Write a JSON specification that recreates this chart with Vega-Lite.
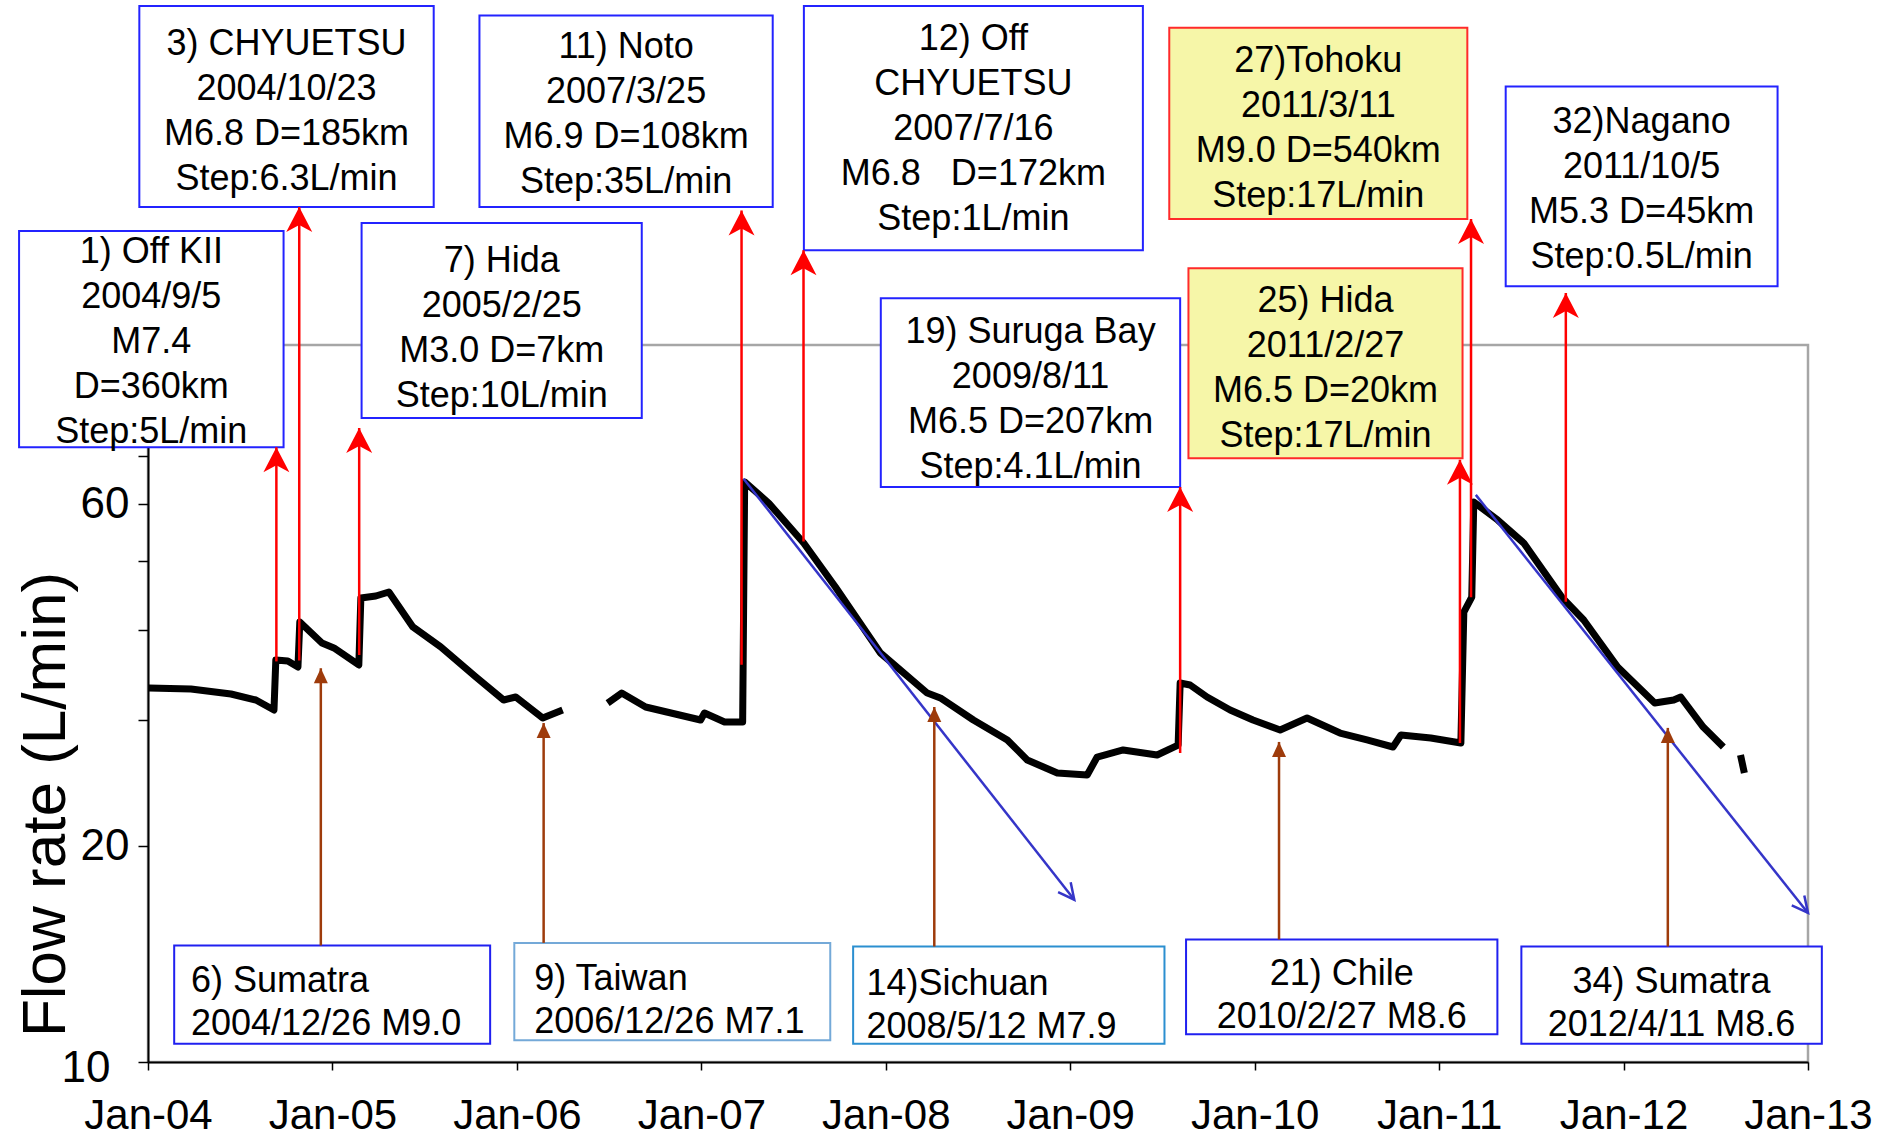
{
  "$schema": "https://vega.github.io/schema/vega-lite/v6.json",
  "width": 1660,
  "height": 717,
  "autosize": {"type": "none"},
  "padding": {"left": 148, "top": 345, "right": 78, "bottom": 77},
  "background": "white",
  "config": {"view": {"stroke": "#a6a6a6", "strokeWidth": 2.5}, "font": "Liberation Sans"},
  "datasets": {
    "flow": [
      {"seg": 1, "t": 2004.005, "v": 33.24}, {"seg": 1, "t": 2004.233, "v": 33.13}, {"seg": 1, "t": 2004.45, "v": 32.6},
      {"seg": 1, "t": 2004.585, "v": 31.98}, {"seg": 1, "t": 2004.683, "v": 30.97}, {"seg": 1, "t": 2004.693, "v": 36.37},
      {"seg": 1, "t": 2004.758, "v": 36.25}, {"seg": 1, "t": 2004.813, "v": 35.56}, {"seg": 1, "t": 2004.823, "v": 41.09},
      {"seg": 1, "t": 2004.943, "v": 38.41}, {"seg": 1, "t": 2005.008, "v": 37.8}, {"seg": 1, "t": 2005.143, "v": 35.79},
      {"seg": 1, "t": 2005.154, "v": 44.37}, {"seg": 1, "t": 2005.235, "v": 44.66}, {"seg": 1, "t": 2005.306, "v": 45.24},
      {"seg": 1, "t": 2005.436, "v": 40.44}, {"seg": 1, "t": 2005.587, "v": 37.92}, {"seg": 1, "t": 2005.777, "v": 34.44},
      {"seg": 1, "t": 2005.928, "v": 31.98}, {"seg": 1, "t": 2005.994, "v": 32.29}, {"seg": 1, "t": 2006.14, "v": 30.18},
      {"seg": 1, "t": 2006.248, "v": 30.97},
      {"seg": 2, "t": 2006.492, "v": 31.67}, {"seg": 2, "t": 2006.568, "v": 32.7}, {"seg": 2, "t": 2006.698, "v": 31.27},
      {"seg": 2, "t": 2006.996, "v": 29.99}, {"seg": 2, "t": 2007.017, "v": 30.67}, {"seg": 2, "t": 2007.126, "v": 29.8},
      {"seg": 2, "t": 2007.224, "v": 29.8}, {"seg": 2, "t": 2007.235, "v": 64.41}, {"seg": 2, "t": 2007.365, "v": 60.2},
      {"seg": 2, "t": 2007.555, "v": 52.94}, {"seg": 2, "t": 2007.727, "v": 45.97}, {"seg": 2, "t": 2007.971, "v": 37.19},
      {"seg": 2, "t": 2008.225, "v": 32.7}, {"seg": 2, "t": 2008.296, "v": 32.19}, {"seg": 2, "t": 2008.475, "v": 29.99},
      {"seg": 2, "t": 2008.659, "v": 28.13}, {"seg": 2, "t": 2008.767, "v": 26.38}, {"seg": 2, "t": 2008.93, "v": 25.3},
      {"seg": 2, "t": 2009.092, "v": 25.14}, {"seg": 2, "t": 2009.146, "v": 26.63}, {"seg": 2, "t": 2009.287, "v": 27.24},
      {"seg": 2, "t": 2009.471, "v": 26.8}, {"seg": 2, "t": 2009.585, "v": 27.67}, {"seg": 2, "t": 2009.596, "v": 33.77},
      {"seg": 2, "t": 2009.65, "v": 33.56}, {"seg": 2, "t": 2009.742, "v": 32.29}, {"seg": 2, "t": 2009.867, "v": 30.97},
      {"seg": 2, "t": 2009.991, "v": 29.99}, {"seg": 2, "t": 2010.138, "v": 29.04}, {"seg": 2, "t": 2010.284, "v": 30.18},
      {"seg": 2, "t": 2010.463, "v": 28.76}, {"seg": 2, "t": 2010.609, "v": 28.13}, {"seg": 2, "t": 2010.75, "v": 27.5},
      {"seg": 2, "t": 2010.793, "v": 28.58}, {"seg": 2, "t": 2010.955, "v": 28.31}, {"seg": 2, "t": 2011.118, "v": 27.86},
      {"seg": 2, "t": 2011.134, "v": 42.42}, {"seg": 2, "t": 2011.177, "v": 44.51}, {"seg": 2, "t": 2011.188, "v": 60.39},
      {"seg": 2, "t": 2011.318, "v": 57.0}, {"seg": 2, "t": 2011.459, "v": 52.94}, {"seg": 2, "t": 2011.665, "v": 44.51},
      {"seg": 2, "t": 2011.784, "v": 41.35}, {"seg": 2, "t": 2011.968, "v": 35.56}, {"seg": 2, "t": 2012.169, "v": 31.67},
      {"seg": 2, "t": 2012.272, "v": 31.98}, {"seg": 2, "t": 2012.31, "v": 32.29}, {"seg": 2, "t": 2012.432, "v": 29.32},
      {"seg": 2, "t": 2012.541, "v": 27.5},
      {"seg": 3, "t": 2012.634, "v": 26.8}, {"seg": 3, "t": 2012.655, "v": 25.3}
    ],
    "trend": [
      {"line": "a", "t": 2007.229, "v": 65.1}, {"line": "a", "t": 2009.022, "v": 16.84},
      {"line": "b", "t": 2011.199, "v": 61.8}, {"line": "b", "t": 2013.0, "v": 16.14}
    ],
    "trendEnds": [
      {"line": "a", "t": 2009.022, "v": 16.84}, {"line": "b", "t": 2013.0, "v": 16.14}
    ],
    "red": [
      {"id": "1", "t": 2004.696, "v": 72.0, "v2": 36.2},
      {"id": "3", "t": 2004.82, "v": 155.8, "v2": 36.3},
      {"id": "7", "t": 2005.145, "v": 76.6, "v2": 36.95},
      {"id": "11", "t": 2007.218, "v": 154.0, "v2": 35.8},
      {"id": "12", "t": 2007.554, "v": 135.6, "v2": 53.2},
      {"id": "19", "t": 2009.596, "v": 63.4, "v2": 26.98},
      {"id": "25", "t": 2011.113, "v": 69.2, "v2": 27.86},
      {"id": "27", "t": 2011.173, "v": 149.9, "v2": 44.5},
      {"id": "32", "t": 2011.687, "v": 118.2, "v2": 43.85}
    ],
    "brown": [
      {"id": "6", "t": 2004.937, "v": 35.4, "v2": 14.54},
      {"id": "9", "t": 2006.145, "v": 29.7, "v2": 14.66},
      {"id": "14", "t": 2008.263, "v": 31.27, "v2": 14.49},
      {"id": "21", "t": 2010.132, "v": 27.95, "v2": 14.82},
      {"id": "34", "t": 2012.24, "v": 29.24, "v2": 14.49}
    ],
    "boxes": [
      {"id": "1", "t": 2003.301, "t2": 2004.735, "v": 144.2, "v2": 72.0},
      {"id": "3", "t": 2003.953, "t2": 2005.549, "v": 297.0, "v2": 155.8},
      {"id": "7", "t": 2005.158, "t2": 2006.677, "v": 148.0, "v2": 79.1},
      {"id": "11", "t": 2005.797, "t2": 2007.387, "v": 288.0, "v2": 155.8},
      {"id": "12", "t": 2007.556, "t2": 2009.394, "v": 297.0, "v2": 135.6},
      {"id": "19", "t": 2007.973, "t2": 2009.596, "v": 116.2, "v2": 63.37},
      {"id": "27", "t": 2009.537, "t2": 2011.153, "v": 277.1, "v2": 149.9},
      {"id": "25", "t": 2009.641, "t2": 2011.127, "v": 128.0, "v2": 69.5},
      {"id": "32", "t": 2011.361, "t2": 2012.835, "v": 229.3, "v2": 120.8},
      {"id": "6", "t": 2004.142, "t2": 2005.855, "v": 14.54, "v2": 10.6},
      {"id": "9", "t": 2005.986, "t2": 2007.699, "v": 14.66, "v2": 10.72},
      {"id": "14", "t": 2007.823, "t2": 2009.511, "v": 14.49, "v2": 10.6},
      {"id": "21", "t": 2009.628, "t2": 2011.316, "v": 14.82, "v2": 10.93},
      {"id": "34", "t": 2011.446, "t2": 2013.075, "v": 14.49, "v2": 10.6}
    ],
    "labels": [
      {"id": "1", "t": 2004.018, "v": 142.4, "txt": "1) Off KII\n2004/9/5\nM7.4\nD=360km\nStep:5L/min"},
      {"id": "3", "t": 2004.751, "v": 277.6, "txt": "3) CHYUETSU\n2004/10/23\nM6.8 D=185km\nStep:6.3L/min"},
      {"id": "7", "t": 2005.918, "v": 138.3, "txt": "7) Hida\n2005/2/25\nM3.0 D=7km\nStep:10L/min"},
      {"id": "11", "t": 2006.592, "v": 274.9, "txt": "11) Noto\n2007/3/25\nM6.9 D=108km\nStep:35L/min"},
      {"id": "12", "t": 2008.475, "v": 282.1, "txt": "12) Off\nCHYUETSU\n2007/7/16\nM6.8\u00a0\u00a0 D=172km\nStep:1L/min"},
      {"id": "19", "t": 2008.785, "v": 110.1, "txt": "19) Suruga Bay\n2009/8/11\nM6.5 D=207km\nStep:4.1L/min"},
      {"id": "27", "t": 2010.345, "v": 262.9, "txt": "27)Tohoku\n2011/3/11\nM9.0 D=540km\nStep:17L/min"},
      {"id": "25", "t": 2010.384, "v": 121.6, "txt": "25) Hida\n2011/2/27\nM6.5 D=20km\nStep:17L/min"},
      {"id": "32", "t": 2012.098, "v": 216.1, "txt": "32)Nagano\n2011/10/5\nM5.3 D=45km\nStep:0.5L/min"},
      {"id": "6", "t": 2004.233, "v": 13.7, "txt": "6) Sumatra\n2004/12/26 M9.0"},
      {"id": "9", "t": 2006.094, "v": 13.79, "txt": "9) Taiwan\n2006/12/26 M7.1"},
      {"id": "14", "t": 2007.895, "v": 13.57, "txt": "14)Sichuan\n2008/5/12 M7.9"},
      {"id": "21", "t": 2010.472, "v": 14.01, "txt": "21) Chile\n2010/2/27 M8.6"},
      {"id": "34", "t": 2012.26, "v": 13.66, "txt": "34) Sumatra\n2012/4/11 M8.6"}
    ]
  },
  "encoding": {
    "x": {
      "field": "t", "type": "quantitative",
      "scale": {"domain": [2004, 2013], "nice": false, "zero": false},
      "axis": {
        "title": null, "grid": false,
        "values": [2004, 2005, 2006, 2007, 2008, 2009, 2010, 2011, 2012, 2013],
        "labelExpr": "'Jan-' + substring(toString(datum.value), 2, 4)",
        "labelFlush": false, "labelOverlap": false,
        "labelFont": "Liberation Sans", "labelFontSize": 42, "labelColor": "black", "labelPadding": 25,
        "domainColor": "black", "domainWidth": 2, "tickColor": "black", "tickWidth": 1.5, "tickSize": 8
      }
    },
    "y": {
      "field": "v", "type": "quantitative",
      "scale": {"type": "log", "domain": [10, 100], "nice": false},
      "axis": {
        "title": "Flow rate (L/min)", "grid": false,
        "values": [10, 20, 30, 40, 50, 60, 70, 80, 90, 100],
        "labelExpr": "(datum.value == 10 || datum.value == 20 || datum.value == 60) ? toString(datum.value) : ''",
        "labelOverlap": false, "labelFlush": false,
        "labelFont": "Liberation Sans", "labelFontSize": 44, "labelColor": "black",
        "labelPadding": {"condition": {"test": "datum.value == 10", "value": 28}, "value": 9},
        "labelOffset": {"condition": {"test": "datum.value == 10", "value": 6}, "value": 0},
        "domainColor": "black", "domainWidth": 2, "tickColor": "black", "tickWidth": 1.5, "tickSize": 10,
        "titleFont": "Liberation Sans", "titleFontSize": 62, "titleFontWeight": "normal", "titleColor": "black",
        "titleAngle": -90, "titleAlign": "center", "titleBaseline": "middle", "titleX": -103, "titleY": 459
      }
    }
  },
  "layer": [
    {
      "data": {"name": "flow"},
      "mark": {"type": "line", "color": "black", "strokeWidth": 7, "strokeJoin": "round"},
      "encoding": {"detail": {"field": "seg", "type": "nominal"}}
    },
    {
      "data": {"name": "trend"},
      "mark": {"type": "line", "color": "#3535c8", "strokeWidth": 2.5},
      "encoding": {"detail": {"field": "line", "type": "nominal"}}
    },
    {
      "data": {"name": "trendEnds"},
      "transform": [{"filter": "datum.line == 'a'"}],
      "mark": {"type": "point", "shape": "M-0.5,1L0,0L0.5,1", "filled": false, "color": "#3535c8", "strokeWidth": 2.5, "size": 1024, "angle": 141.8, "opacity": 1}
    },
    {
      "data": {"name": "trendEnds"},
      "transform": [{"filter": "datum.line == 'b'"}],
      "mark": {"type": "point", "shape": "M-0.5,1L0,0L0.5,1", "filled": false, "color": "#3535c8", "strokeWidth": 2.5, "size": 1024, "angle": 141.5, "opacity": 1}
    },
    {
      "data": {"name": "boxes"},
      "mark": {"type": "rect", "strokeWidth": 2},
      "encoding": {
        "x2": {"field": "t2"},
        "y2": {"field": "v2"},
        "fill": {"field": "id", "type": "nominal", "legend": null,
          "scale": {"domain": ["1","3","7","11","12","19","25","27","32","6","9","14","21","34"],
                    "range": ["#ffffff","#ffffff","#ffffff","#ffffff","#ffffff","#ffffff","#f6f6a8","#f6f6a8","#ffffff","#ffffff","#ffffff","#ffffff","#ffffff","#ffffff"]}},
        "stroke": {"field": "id", "type": "nominal", "legend": null,
          "scale": {"domain": ["1","3","7","11","12","19","25","27","32","6","9","14","21","34"],
                    "range": ["#2323ff","#2323ff","#2323ff","#2323ff","#2323ff","#2323ff","#ff2a2a","#ff2a2a","#2323ff","#2020f0","#74a9d8","#2b8fd0","#2020f0","#2020f0"]}}
      }
    },
    {
      "data": {"name": "red"},
      "mark": {"type": "rule", "color": "#ff0000", "strokeWidth": 2.5},
      "encoding": {"y2": {"field": "v2"}}
    },
    {
      "data": {"name": "red"},
      "mark": {"type": "point", "shape": "M0,0L0.65,1.25L0,0.9L-0.65,1.25Z", "filled": true, "color": "#ff0000", "size": 1600, "opacity": 1}
    },
    {
      "data": {"name": "brown"},
      "mark": {"type": "rule", "color": "#9e3b0b", "strokeWidth": 2.5},
      "encoding": {"y2": {"field": "v2"}}
    },
    {
      "data": {"name": "brown"},
      "mark": {"type": "point", "shape": "M0,0L0.7,1.5L-0.7,1.5Z", "filled": true, "color": "#9e3b0b", "size": 400, "opacity": 1}
    },
    {
      "data": {"name": "labels"},
      "transform": [{"filter": {"field": "id", "oneOf": ["1","3","7","11","12","19","25","27","32"]}}],
      "mark": {"type": "text", "align": "center", "baseline": "top", "font": "Liberation Sans", "fontSize": 36, "lineHeight": 45, "lineBreak": "\n", "color": "black"},
      "encoding": {"text": {"field": "txt", "type": "nominal"}}
    },
    {
      "data": {"name": "labels"},
      "transform": [{"filter": {"field": "id", "oneOf": ["6","9","14"]}}],
      "mark": {"type": "text", "align": "left", "baseline": "top", "font": "Liberation Sans", "fontSize": 36, "lineHeight": 43, "lineBreak": "\n", "color": "black"},
      "encoding": {"text": {"field": "txt", "type": "nominal"}}
    },
    {
      "data": {"name": "labels"},
      "transform": [{"filter": {"field": "id", "oneOf": ["21","34"]}}],
      "mark": {"type": "text", "align": "center", "baseline": "top", "font": "Liberation Sans", "fontSize": 36, "lineHeight": 43, "lineBreak": "\n", "color": "black"},
      "encoding": {"text": {"field": "txt", "type": "nominal"}}
    }
  ]
}
